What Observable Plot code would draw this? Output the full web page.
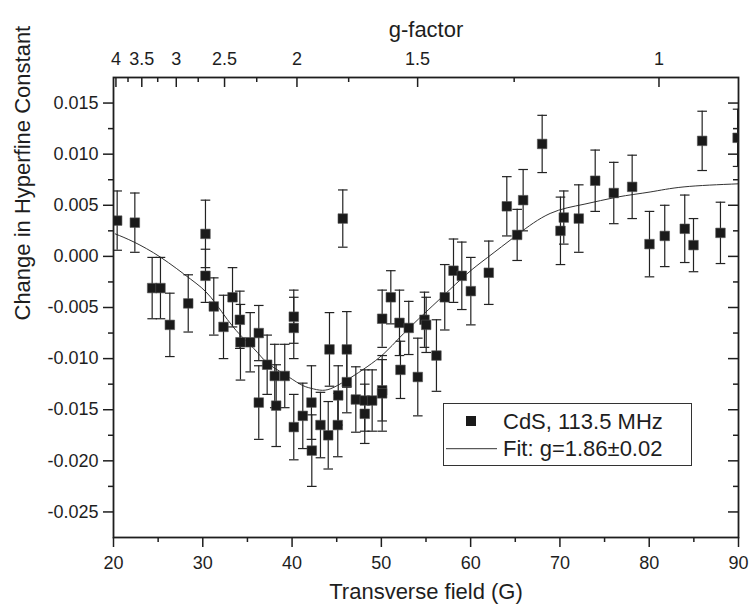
<!DOCTYPE html>
<html><head><meta charset="utf-8">
<script src="https://cdn.jsdelivr.net/npm/d3@7"></script>
<script src="https://cdn.jsdelivr.net/npm/@observablehq/plot@0.6"></script>
<style>body{margin:0;background:#fff}#chart{width:750px;height:612px}</style>
</head><body><div id="chart"></div>
<script>
const field = [20.41, 22.39, 24.33, 25.26, 26.31, 28.37, 30.30, 30.30, 31.23, 32.32, 33.33, 34.15, 34.22, 35.31, 36.27, 36.27, 37.21, 38.06, 38.22, 39.18, 40.19, 40.19, 40.19, 41.20, 42.17, 42.21, 43.18, 44.05, 44.19, 45.12, 45.17, 45.68, 46.13, 46.13, 47.14, 48.14, 48.14, 48.97, 50.09, 50.09, 50.09, 51.06, 52.03, 52.14, 53.07, 54.08, 54.83, 55.02, 56.17, 57.10, 58.08, 59.01, 60.02, 62.03, 64.05, 65.21, 65.88, 68.01, 70.06, 70.43, 72.11, 73.95, 76.03, 78.09, 80.03, 81.74, 83.98, 84.96, 85.93, 87.98, 89.9];
const hyperfine = [0.0035, 0.0033, -0.0031, -0.0031, -0.0067, -0.0046, 0.0022, -0.0019, -0.0049, -0.0069, -0.0040, -0.0062, -0.0084, -0.0084, -0.0075, -0.0143, -0.0106, -0.0117, -0.0146, -0.0117, -0.0059, -0.0070, -0.0167, -0.0156, -0.0143, -0.0190, -0.0165, -0.0175, -0.0091, -0.0165, -0.0136, 0.0037, -0.0091, -0.0123, -0.0140, -0.0154, -0.0141, -0.0141, -0.0131, -0.0134, -0.0061, -0.0040, -0.0065, -0.0111, -0.0070, -0.0118, -0.0062, -0.0067, -0.0097, -0.0040, -0.0014, -0.0019, -0.0034, -0.0016, 0.0049, 0.0021, 0.0055, 0.0110, 0.0025, 0.0038, 0.0037, 0.0074, 0.0062, 0.0068, 0.0012, 0.0020, 0.0027, 0.0011, 0.0113, 0.0023, 0.0116];
const errors = [0.0029, 0.0029, 0.0030, 0.0030, 0.0031, 0.0028, 0.0033, 0.0026, 0.0028, 0.0031, 0.0029, 0.0028, 0.0037, 0.0029, 0.0027, 0.0036, 0.0029, 0.0031, 0.0040, 0.0031, 0.0026, 0.0030, 0.0032, 0.0032, 0.0036, 0.0035, 0.0032, 0.0033, 0.0036, 0.0031, 0.0029, 0.0028, 0.0037, 0.0030, 0.0032, 0.0029, 0.0030, 0.0030, 0.0030, 0.0037, 0.0028, 0.0026, 0.0032, 0.0028, 0.0026, 0.0038, 0.0027, 0.0027, 0.0035, 0.0032, 0.0031, 0.0033, 0.0033, 0.0031, 0.0029, 0.0025, 0.0030, 0.0028, 0.0033, 0.0026, 0.0033, 0.0030, 0.0030, 0.0031, 0.0032, 0.0030, 0.0033, 0.0026, 0.0029, 0.0030, 0.0028];
const fitField = [20.2, 22.3, 25.3, 28.6, 30.9, 33.4, 35.7, 37.2, 39.1, 40.9, 42.1, 43.4, 44.7, 46.5, 48.4, 50.3, 52.1, 53.6, 54.8, 57.0, 59.6, 61.9, 65.2, 68.9, 72.7, 76.4, 80.1, 83.9, 90.0];
const fitValue = [0.0022, 0.0014, -0.0001, -0.0022, -0.0040, -0.0069, -0.0090, -0.0104, -0.0115, -0.0125, -0.0129, -0.0131, -0.0128, -0.0119, -0.0108, -0.0095, -0.0079, -0.0066, -0.0056, -0.0038, -0.0017, -0.0001, 0.0021, 0.0042, 0.0051, 0.0058, 0.0063, 0.0068, 0.0071];
const xMajorTicks = [20, 30, 40, 50, 60, 70, 80, 90];
const xMinorTicks = [25, 35, 45, 55, 65, 75, 85];
const yMajorTicks = [0.015, 0.010, 0.005, 0, -0.005, -0.010, -0.015, -0.020, -0.025];
const yMinorTicks = [0.0125, 0.0075, 0.0025, -0.0025, -0.0075, -0.0125, -0.0175, -0.0225];
const gMajorTicks = [4, 3.5, 3, 2.5, 2, 1.5, 1];
const gMinorTicks = [3.75, 3.25, 2.75, 2.25, 1.75, 1.25];
const xTitle = "Transverse field (G)";
const yTitle = "Change in Hyperfine Constant";
const topTitle = "g-factor";
const seriesLabel = "CdS, 113.5 MHz";
const fitLabel = "Fit: g=1.86±0.02";
// g = h·ν / (μB·B), ν = 113.5 MHz, μB/h = 1.39962 MHz/G
const G_FIELD = 113.5 / 1.39962;
const gToField = g => G_FIELD / g;

const points = field.map((x, i) => ({x, y: hyperfine[i], e: errors[i]}));
const fit = fitField.map((x, i) => ({x, y: fitValue[i]}));

const W = 750, H = 612, mT = 77, mB = 75, mL = 113, mR = 12;
const innerH = H - mT - mB, innerW = W - mL - mR;
const ink = "#1e1e1e";
const capSymbol = {draw(ctx, size) { const r = Math.sqrt(size / Math.PI); ctx.moveTo(-r, 0); ctx.lineTo(r, 0); }};
const fmtY = d => (Math.abs(d) < 1e-12 ? 0 : d).toFixed(3);

const svg = Plot.plot({
  width: W, height: H,
  marginTop: mT, marginBottom: mB, marginLeft: mL, marginRight: mR,
  x: {domain: [20, 90]},
  y: {domain: [-0.0275, 0.0175]},
  style: {fontFamily: "'Liberation Sans', Arial, sans-serif", fontSize: "18px", color: ink, background: "white"},
  marks: [
    Plot.axisX({ticks: xMajorTicks, tickSize: 10, tickPadding: 9, tickFormat: d => String(d), label: null, strokeWidth: 1.5}),
    Plot.axisX({ticks: xMinorTicks, tickSize: 5, tickFormat: () => "", label: null, strokeWidth: 1.5}),
    Plot.axisY({ticks: yMajorTicks, tickSize: 10, tickPadding: 5, tickFormat: fmtY, label: null, strokeWidth: 1.5}),
    Plot.axisY({ticks: yMinorTicks, tickSize: 5, tickFormat: () => "", label: null, strokeWidth: 1.5}),
    Plot.axisX({anchor: "top", ticks: gMajorTicks.map(gToField), tickSize: 0, tickPadding: 13, tickFormat: b => String(+(G_FIELD / b).toFixed(2)), label: null}),
    Plot.ruleX(gMajorTicks, {x: gToField, insetBottom: innerH - 10, stroke: ink, strokeWidth: 1.5}),
    Plot.ruleX(gMinorTicks, {x: gToField, insetBottom: innerH - 5, stroke: ink, strokeWidth: 1.5}),
    Plot.ruleY(yMajorTicks, {y: d => d, insetLeft: innerW - 10, stroke: ink, strokeWidth: 1.5}),
    Plot.ruleY(yMinorTicks, {y: d => d, insetLeft: innerW - 5, stroke: ink, strokeWidth: 1.5}),
    Plot.line(fit, {x: "x", y: "y", curve: "natural", stroke: "#333", strokeWidth: 1}),
    Plot.ruleX(points, {x: "x", y1: d => d.y - d.e, y2: d => d.y + d.e, stroke: "#222", strokeWidth: 1.2, clip: true}),
    Plot.dot(points, {x: "x", y: d => d.y + d.e, symbol: capSymbol, r: 4.8, stroke: "#222", fill: "none", strokeWidth: 1.2, clip: true}),
    Plot.dot(points, {x: "x", y: d => d.y - d.e, symbol: capSymbol, r: 4.8, stroke: "#222", fill: "none", strokeWidth: 1.2, clip: true}),
    Plot.dot(points, {x: "x", y: "y", symbol: "square", r: 5.4, fill: "#1a1a1a", stroke: "#555", strokeWidth: 0.6, clip: true}),
    Plot.frame({stroke: ink, strokeWidth: 1.8}),
    Plot.text([xTitle], {text: d => d, frameAnchor: "bottom", dy: 61, fontSize: 22}),
    Plot.text([topTitle], {text: d => d, frameAnchor: "top", dy: -56, fontSize: 22}),
    Plot.text([yTitle], {text: d => d, frameAnchor: "left", dx: -91, dy: 13, rotate: -90, fontSize: 22})
  ]
});
document.getElementById("chart").appendChild(svg);

// legend box inside the plot
const lg = d3.select(svg).append("g")
  .attr("font-family", "'Liberation Sans', Arial, sans-serif")
  .attr("font-size", 22).attr("fill", ink).attr("text-anchor", "start");
lg.append("rect").attr("x", 443.5).attr("y", 403.5).attr("width", 248).attr("height", 62).attr("fill", "white").attr("stroke", "#333").attr("stroke-width", 1);
lg.append("rect").attr("x", 466).attr("y", 416).attr("width", 10).attr("height", 10).attr("fill", "#1a1a1a");
lg.append("text").attr("x", 503).attr("y", 428.5).attr("text-anchor", "start").text(seriesLabel);
lg.append("line").attr("x1", 446).attr("x2", 497).attr("y1", 448.7).attr("y2", 448.7).attr("stroke", "#333").attr("stroke-width", 1);
lg.append("text").attr("x", 503).attr("y", 456).attr("text-anchor", "start").text(fitLabel);
</script></body></html>
